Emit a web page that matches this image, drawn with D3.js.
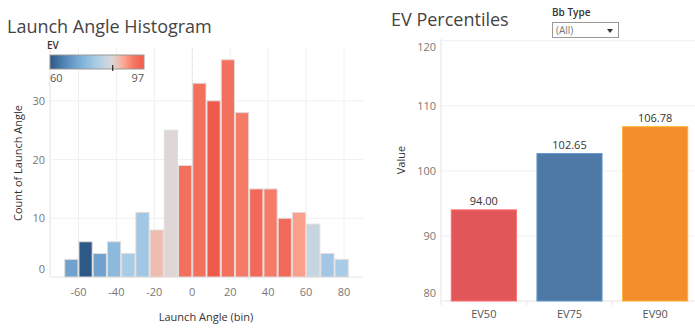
<!DOCTYPE html>
<html>
  <head>
    <title>d3js</title>
    <meta charset="utf-8">
    <style>
      body {
        padding: 0;
        margin: 0;
        background: #fff;
        font-family: 'Open Sans', sans-serif;
      }
      #chart, #chart > svg {
        width: 695px;
        height: 329px;
      }
    </style>
  </head>
  <body>
    <div id="chart"></div>
    <script src="https://d3js.org/d3.v7.min.js"></script>
    <script>
      // histogram bins (launch angle, bin size 7.5)
      var binStarts = [-67.5, -60, -52.5, -45, -37.5, -30, -22.5, -15, -7.5, 0,
                       7.5, 15, 22.5, 30, 37.5, 45, 52.5, 60, 67.5, 75];
      var binCounts = [3, 6, 4, 6, 4, 11, 8, 25, 19, 33,
                       30, 37, 28, 15, 15, 10, 11, 9, 4, 3];
      var binEV = [70, 60, 70, 74, 78, 77, 87, 84.7, 94, 94,
                   97, 94, 92.5, 95, 92.5, 95, 89.5, 82, 77, 78];
      var binSize = 7.5;
      var angleTicks = [-60, -40, -20, 0, 20, 40, 60, 80];
      var countTicks = [0, 10, 20, 30];

      // percentile bars
      var pctNames = ["EV50", "EV75", "EV90"];
      var pctValues = [94.00, 102.65, 106.78];
      var pctColors = ["#e15759", "#4e79a7", "#f28e2b"];
      var valueTicks = [80, 90, 100, 110, 120];

      var evMin = 60, evMax = 97, evMid = 84.7;

      var svg = d3.select("#chart").append("svg")
        .attr("width", 695)
        .attr("height", 329);

      var grid = "#f0f0f0", axisCol = "#e4e4e4", tickText = "#777", labelText = "#333";

      // ---------- Launch Angle Histogram ----------

      var x = d3.scaleLinear().domain([-75, 90]).range([50, 363]),
          y = d3.scaleLinear().domain([0, 39]).range([277, 48]);

      // diverging red-blue colour for EV
      var colorStops = [60, 67, 73, 78, 82, evMid, 87, 89.5, 92.5, 97];
      var color = d3.scaleLinear()
        .domain(colorStops)
        .range(["#2c5985", "#5b8fbf", "#84b5da", "#a8cce6", "#c6d5df",
                "#ddd6d4", "#efbdb0", "#fba18b", "#f67b66", "#ee5a4b"]);

      svg.append("text")
        .attr("x", 7).attr("y", 33)
        .attr("font-size", "18px")
        .attr("fill", "#444")
        .text("Launch Angle Histogram");

      var g = svg.append("g");

      // gridlines
      g.selectAll(".vgrid")
        .data(angleTicks.filter(d => d !== 0))
        .enter().append("line")
          .attr("x1", d => x(d)).attr("x2", d => x(d))
          .attr("y1", y.range()[1]).attr("y2", y(0))
          .attr("stroke", grid);
      g.selectAll(".hgrid")
        .data(countTicks.filter(d => d > 0))
        .enter().append("line")
          .attr("x1", x.range()[0]).attr("x2", x.range()[1])
          .attr("y1", d => y(d)).attr("y2", d => y(d))
          .attr("stroke", grid);
      g.append("line")
        .attr("x1", x(0)).attr("x2", x(0))
        .attr("y1", y.range()[1]).attr("y2", y(0))
        .attr("stroke", "#ccc")
        .attr("stroke-dasharray", "1,1");

      // axis lines
      g.append("line")
        .attr("x1", x.range()[0]).attr("x2", x.range()[1])
        .attr("y1", y(0)).attr("y2", y(0))
        .attr("stroke", axisCol);
      g.append("line")
        .attr("x1", x.range()[0]).attr("x2", x.range()[0])
        .attr("y1", y.range()[1]).attr("y2", y(0))
        .attr("stroke", axisCol);

      var bins = binStarts.map((s, i) => ({start: s, count: binCounts[i], ev: binEV[i]}));

      g.selectAll(".bin")
        .data(bins)
        .enter().append("rect")
          .attr("x", d => x(d.start) + 0.5)
          .attr("y", d => y(d.count))
          .attr("width", d => x(d.start + binSize) - x(d.start) - 1)
          .attr("height", d => y(0) - y(d.count))
          .attr("fill", d => color(d.ev))
          .attr("stroke", "#e2dcdc")
          .attr("stroke-width", 1);

      // tick labels
      g.selectAll(".xlab")
        .data(angleTicks)
        .enter().append("text")
          .attr("x", d => x(d))
          .attr("y", 296)
          .attr("text-anchor", "middle")
          .attr("font-size", "11px")
          .attr("fill", tickText)
          .text(d => d);
      g.selectAll(".ylab")
        .data(countTicks)
        .enter().append("text")
          .attr("x", 45)
          .attr("y", d => d === 0 ? y(d) - 4 : y(d) + 4)
          .attr("text-anchor", "end")
          .attr("font-size", "11px")
          .attr("fill", tickText)
          .text(d => d);

      g.append("text")
        .attr("x", 206).attr("y", 321)
        .attr("text-anchor", "middle")
        .attr("font-size", "11px")
        .attr("fill", labelText)
        .text("Launch Angle (bin)");
      g.append("text")
        .attr("transform", "translate(22,163) rotate(-90)")
        .attr("text-anchor", "middle")
        .attr("font-size", "11px")
        .attr("fill", labelText)
        .text("Count of Launch Angle");

      // colour legend
      var lx = d3.scaleLinear().domain([evMin, evMax]).range([50, 144]);
      var grad = svg.append("defs").append("linearGradient")
        .attr("id", "evGrad");
      grad.selectAll("stop")
        .data(colorStops)
        .enter().append("stop")
          .attr("offset", d => ((d - evMin) / (evMax - evMin) * 100) + "%")
          .attr("stop-color", d => color(d));

      var legend = svg.append("g");
      legend.append("text")
        .attr("x", 47).attr("y", 49)
        .attr("font-size", "10px")
        .attr("font-weight", 600)
        .attr("fill", labelText)
        .text("EV");
      legend.append("rect")
        .attr("x", lx(evMin)).attr("y", 55)
        .attr("width", lx(evMax) - lx(evMin)).attr("height", 14)
        .attr("fill", "url(#evGrad)")
        .attr("stroke", "#999");
      legend.append("line")
        .attr("x1", lx(evMid)).attr("x2", lx(evMid))
        .attr("y1", 65).attr("y2", 71)
        .attr("stroke", "#000");
      legend.append("text")
        .attr("x", lx(evMin)).attr("y", 82)
        .attr("font-size", "11px")
        .attr("fill", "#555")
        .text(evMin);
      legend.append("text")
        .attr("x", lx(evMax)).attr("y", 82)
        .attr("text-anchor", "end")
        .attr("font-size", "11px")
        .attr("fill", "#555")
        .text(evMax);

      // ---------- EV Percentiles ----------

      var bx = d3.scaleBand()
            .domain(pctNames)
            .range([441, 698])
            .paddingInner(0.24)
            .paddingOuter(0.12),
          by = d3.scaleLinear().domain([80, 120.25]).range([301, 39]);

      svg.append("text")
        .attr("x", 391).attr("y", 26)
        .attr("font-size", "18px")
        .attr("fill", "#444")
        .text("EV Percentiles");

      var r = svg.append("g");

      r.selectAll(".hgrid")
        .data(valueTicks.filter(d => d > 80))
        .enter().append("line")
          .attr("x1", 441).attr("x2", 695)
          .attr("y1", d => by(d)).attr("y2", d => by(d))
          .attr("stroke", grid);
      r.append("line")
        .attr("x1", 441).attr("x2", 695)
        .attr("y1", by(80)).attr("y2", by(80))
        .attr("stroke", axisCol);
      r.append("line")
        .attr("x1", 441).attr("x2", 441)
        .attr("y1", by.range()[1]).attr("y2", by(80) + 4)
        .attr("stroke", axisCol);
      r.selectAll(".sep")
        .data(pctNames.slice(1))
        .enter().append("line")
          .attr("x1", d => bx(d) - bx.step() * bx.paddingInner() / 2)
          .attr("x2", d => bx(d) - bx.step() * bx.paddingInner() / 2)
          .attr("y1", by(80)).attr("y2", by(80) + 4)
          .attr("stroke", axisCol);

      r.selectAll(".bar")
        .data(pctNames)
        .enter().append("rect")
          .attr("x", d => bx(d))
          .attr("y", (d, i) => by(pctValues[i]))
          .attr("width", bx.bandwidth())
          .attr("height", (d, i) => by(80) - by(pctValues[i]))
          .attr("fill", (d, i) => pctColors[i])
          .attr("stroke", (d, i) => d3.color(pctColors[i]).brighter(0.6))
          .attr("stroke-width", 1);

      r.selectAll(".val")
        .data(pctNames)
        .enter().append("text")
          .attr("x", d => bx(d) + bx.bandwidth() / 2)
          .attr("y", (d, i) => by(pctValues[i]) - 5)
          .attr("text-anchor", "middle")
          .attr("font-size", "11px")
          .attr("fill", labelText)
          .text((d, i) => d3.format(".2f")(pctValues[i]));

      r.selectAll(".ylab")
        .data(valueTicks)
        .enter().append("text")
          .attr("x", 436)
          .attr("y", d => d === 80 ? by(d) - 4 : d === 120 ? by(d) + 10 : by(d) + 4)
          .attr("text-anchor", "end")
          .attr("font-size", "11px")
          .attr("fill", tickText)
          .text(d => d);

      r.selectAll(".xlab")
        .data(pctNames)
        .enter().append("text")
          .attr("x", d => bx(d) + bx.bandwidth() / 2)
          .attr("y", 318)
          .attr("text-anchor", "middle")
          .attr("font-size", "11px")
          .attr("fill", "#555")
          .text(d => d);

      r.append("text")
        .attr("transform", "translate(405,160) rotate(-90)")
        .attr("text-anchor", "middle")
        .attr("font-size", "11px")
        .attr("fill", labelText)
        .text("Value");

      // Bb Type filter
      var f = svg.append("g");
      f.append("text")
        .attr("x", 552).attr("y", 16)
        .attr("font-size", "10px")
        .attr("font-weight", 600)
        .attr("fill", labelText)
        .text("Bb Type");
      f.append("rect")
        .attr("x", 552.5).attr("y", 22.5)
        .attr("width", 66).attr("height", 15)
        .attr("fill", "#fff")
        .attr("stroke", "#999");
      f.append("text")
        .attr("x", 556).attr("y", 34)
        .attr("font-size", "10px")
        .attr("fill", "#777")
        .text("(All)");
      f.append("path")
        .attr("d", "M607,29 L613,29 L610,33 Z")
        .attr("fill", "#333");
    </script>
  </body>
</html>
